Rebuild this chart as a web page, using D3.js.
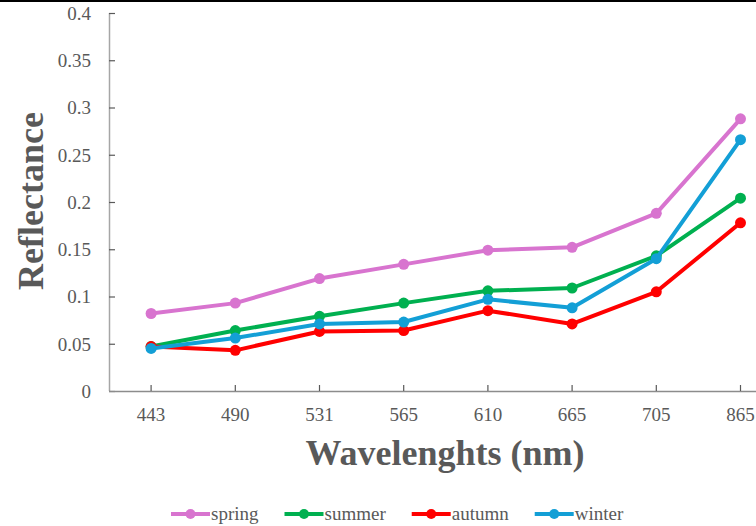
<!DOCTYPE html>
<html>
<head>
<meta charset="utf-8">
<script src="https://cdn.jsdelivr.net/npm/d3@7"></script>
<style>
  html, body { margin: 0; padding: 0; background: #fff; }
  svg { display: block; }
  text { font-family: "Liberation Serif", "Times New Roman", serif; fill: #595959; }
</style>
</head>
<body>
<svg id="chart" width="756" height="526"></svg>
<script>
// Wavelength bands (nm)
const wavelengths = ["443", "490", "531", "565", "610", "665", "705", "865"];

// Seasonal reflectance per band
const spring = [0.082, 0.093, 0.119, 0.134, 0.149, 0.152, 0.188, 0.288];
const summer = [0.047, 0.064, 0.079, 0.093, 0.106, 0.109, 0.143, 0.204];
const autumn = [0.047, 0.043, 0.063, 0.064, 0.085, 0.071, 0.105, 0.178];
const winter = [0.045, 0.056, 0.071, 0.073, 0.097, 0.088, 0.140, 0.266];

const seriesNames = ["spring", "summer", "autumn", "winter"];
const seriesColors = ["#D874CF", "#00B050", "#FF0000", "#139FD6"];

const yTicks = [0, 0.05, 0.1, 0.15, 0.2, 0.25, 0.3, 0.35, 0.4];

const series = seriesNames.map((name, i) => ({
  name,
  color: seriesColors[i],
  values: [spring, summer, autumn, winter][i]
}));

const svg = d3.select("#chart");

// frame line along the top edge
svg.append("line")
  .attr("x1", 0).attr("x2", 756).attr("y1", 1).attr("y2", 1)
  .attr("stroke", "#000").attr("stroke-width", 2);

const plotLeft = 109, plotTop = 13, plotBottom = 391;
const step = 84.2;

const x = d3.scaleBand()
  .domain(wavelengths)
  .range([plotLeft, plotLeft + step * wavelengths.length])
  .padding(0);

const y = d3.scaleLinear().domain([0, 0.4]).range([plotBottom, plotTop]);

const cx = d => x(d) + x.bandwidth() / 2;

// y axis
const yAxis = svg.append("g")
  .attr("transform", `translate(${plotLeft},0)`)
  .call(d3.axisRight(y).tickValues(yTicks).tickSize(6).tickFormat(d => d === 0 ? "0" : String(+d.toFixed(2))));
yAxis.attr("font-family", null);
yAxis.select(".domain").attr("stroke", "#A6A6A6").attr("stroke-width", 1.5)
  .attr("d", `M0.5,${plotTop}V${plotBottom}`);
yAxis.selectAll(".tick line").attr("stroke", "#595959").attr("stroke-width", 1.2);
yAxis.selectAll(".tick text")
  .attr("x", -18).attr("text-anchor", "end").attr("dy", "0.34em")
  .style("font-size", "19px");

// x axis
const xAxis = svg.append("g")
  .attr("transform", `translate(0,${plotBottom})`)
  .call(d3.axisTop(x).tickSize(6).tickPadding(0));
xAxis.attr("font-family", null);
xAxis.select(".domain").attr("stroke", "#8C8C8C").attr("stroke-width", 1.5)
  .attr("d", `M${plotLeft},0.5H${plotLeft + step * wavelengths.length}`);
xAxis.selectAll(".tick line").attr("stroke", "#595959").attr("stroke-width", 1.2);
xAxis.selectAll(".tick text")
  .attr("y", 30).attr("dy", 0)
  .style("font-size", "19px");

// axis titles
svg.append("text")
  .attr("transform", "translate(43,201) rotate(-90)")
  .attr("text-anchor", "middle")
  .style("font-size", "36px").style("font-weight", "bold")
  .text("Reflectance");

svg.append("text")
  .attr("x", 445).attr("y", 465)
  .attr("text-anchor", "middle")
  .style("font-size", "36px").style("font-weight", "bold")
  .text("Wavelenghts (nm)");

// series lines and markers
const line = d3.line()
  .x((d, i) => cx(wavelengths[i]))
  .y(d => y(d));

const g = svg.append("g");
series.forEach(s => {
  const sg = g.append("g");
  sg.append("path")
    .datum(s.values)
    .attr("d", line)
    .attr("fill", "none")
    .attr("stroke", s.color)
    .attr("stroke-width", 4)
    .attr("stroke-linejoin", "round");
  sg.selectAll("circle")
    .data(s.values)
    .join("circle")
    .attr("cx", (d, i) => cx(wavelengths[i]))
    .attr("cy", d => y(d))
    .attr("r", 5.5)
    .attr("fill", s.color);
});

// legend
const legend = svg.append("g").attr("transform", "translate(171,514)");
let lx = 0;
series.forEach(s => {
  const item = legend.append("g").attr("transform", `translate(${lx},0)`);
  item.append("line")
    .attr("x1", 0).attr("x2", 39).attr("y1", 0).attr("y2", 0)
    .attr("stroke", s.color).attr("stroke-width", 4);
  item.append("circle").attr("cx", 19.5).attr("cy", 0).attr("r", 5).attr("fill", s.color);
  const t = item.append("text")
    .attr("x", 40).attr("y", 6)
    .style("font-size", "19px")
    .text(s.name);
  lx += 40 + t.node().getComputedTextLength() + 26;
});
</script>
</body>
</html>
